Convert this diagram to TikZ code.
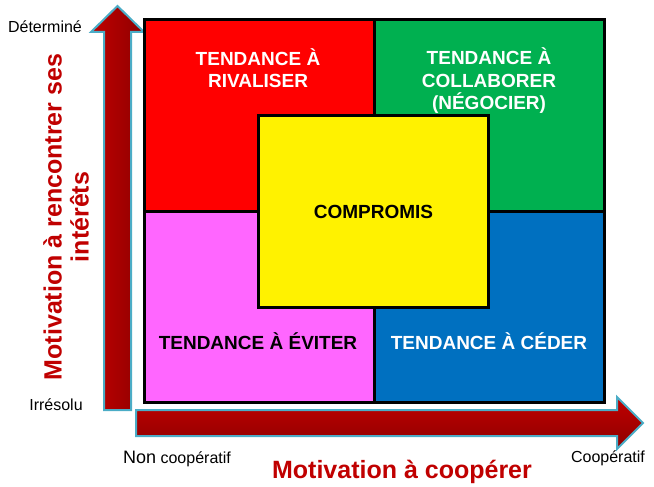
\documentclass[tikz,border=0pt]{standalone}
\usepackage{fontspec}
\setmainfont{Liberation Sans}
\definecolor{arrowred}{HTML}{C00000}
\definecolor{arrowdark}{HTML}{8E0000}
\definecolor{arrowedge}{HTML}{4BACC6}
\definecolor{titlered}{HTML}{C00000}
\definecolor{quadgreen}{HTML}{00B050}
\definecolor{quadpink}{HTML}{FF66FF}
\definecolor{quadblue}{HTML}{0070C0}

\begin{document}
\begin{tikzpicture}[x=1pt, y=-1pt,
  quad/.style={draw=black, line width=3pt, inner sep=0pt, outer sep=0pt,
    minimum width=230pt, minimum height=191.5pt},
  quadtext/.style={font=\fontsize{19}{22.5}\selectfont\bfseries, align=center},
  axisarrow/.style={draw=arrowedge, line width=2pt},
  endlabel/.style={font=\fontsize{16}{19}\selectfont, anchor=base},
  axistitle/.style={font=\fontsize{25}{27}\selectfont\bfseries, text=titlered, align=center}]
  \useasboundingbox (0,0) rectangle (654,487);
  \path[axisarrow, left color=arrowred, right color=arrowdark]
    (104,410) -- (104,32) -- (91,32) -- (117.5,6) -- (144,32) -- (131,32) -- (131,410) -- cycle;
  \path[axisarrow, top color=arrowred, bottom color=arrowdark]
    (136,410) -- (617,410) -- (617,397) -- (643,423) -- (617,449) -- (617,436) -- (136,436) -- cycle;
  \node[quad, fill=red, anchor=north west] (rival) at (144,19.5) {};
  \node[quad, fill=quadgreen, anchor=north east] (collab) at (604,19.5) {};
  \node[quad, fill=quadpink, anchor=south west] (eviter) at (144,402.5) {};
  \node[quad, fill=quadblue, anchor=south east] (ceder) at (604,402.5) {};
  \node[quad, fill=yellow] (compromis) at (373.5,211.5) {};
  \node[quadtext, text=white] (rivaltext) at (258,68) {TENDANCE À\\RIVALISER};
  \node[quadtext, text=white] (collabtext) at (489,81) {TENDANCE À\\COLLABORER\\(NÉGOCIER)};
  \node[quadtext, anchor=base] (comprotext) at (373.5,218) {COMPROMIS};
  \node[quadtext, anchor=base] (evitertext) at (258,349) {TENDANCE À ÉVITER};
  \node[quadtext, text=white, anchor=base] (cedertext) at (489,349) {TENDANCE À CÉDER};
  \node[endlabel] (determine) at (45,33) {Déterminé};
  \node[endlabel] (irresolu) at (56,410) {Irrésolu};
  \node[endlabel] (noncoop) at (177,463) {{\fontsize{18}{20}\selectfont Non} coopératif};
  \node[endlabel] (coop) at (608,462) {Coopératif};
  \node[axistitle, anchor=base] (coopertitle) at (402,478) {Motivation à coopérer};
  \node[axistitle, rotate=90] (interettitle) at (66,217) {Motivation à rencontrer ses\\intérêts};
\end{tikzpicture}
\end{document}
